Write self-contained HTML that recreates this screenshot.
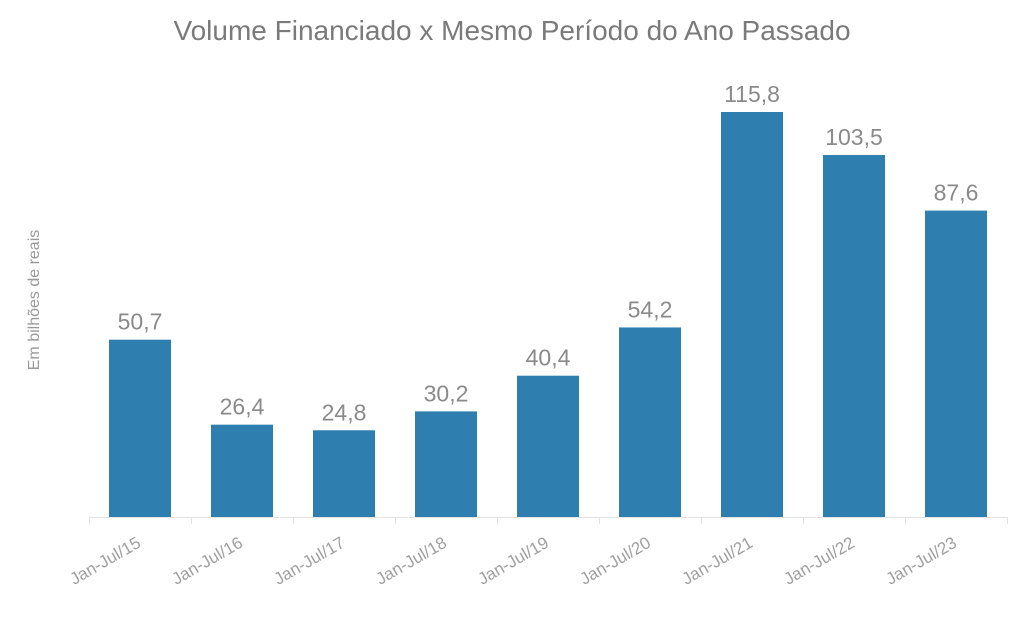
<!DOCTYPE html>
<html><head><meta charset="utf-8"><style>
body{margin:0;background:#fff;}
svg{display:block;font-family:"Liberation Sans",sans-serif;}
</style></head><body>
<svg id="c" width="1024" height="622">
<text x="512" y="40" text-anchor="middle" font-size="28" fill="#7a7a7a" font-weight="300">Volume Financiado x Mesmo Período do Ano Passado</text>
<text transform="translate(39,300) rotate(-90)" text-anchor="middle" font-size="16" fill="#999">Em bilhões de reais</text>
<line x1="89" y1="517.5" x2="1007" y2="517.5" stroke="#e3e3e3"/>
<g id="bars"></g>
</svg>
<script>
const categories=["Jan-Jul/15","Jan-Jul/16","Jan-Jul/17","Jan-Jul/18","Jan-Jul/19","Jan-Jul/20","Jan-Jul/21","Jan-Jul/22","Jan-Jul/23"];
const values=[50.7,26.4,24.8,30.2,40.4,54.2,115.8,103.5,87.6];
const valueLabels=["50,7","26,4","24,8","30,2","40,4","54,2","115,8","103,5","87,6"];
const NS="http://www.w3.org/2000/svg";
const g=document.getElementById("bars");
const x0=89,step=102,bw=62,base=517,scale=405/115.8;
function xc(i){return x0+step*i+step/2;}
function y(v){return base-v*scale;}
function mk(t,a){const e=document.createElementNS(NS,t);for(const k in a)e.setAttribute(k,a[k]);g.appendChild(e);return e;}
for(let i=0;i<=categories.length;i++){
 const t=mk("line",{x1:x0+step*i+0.5,x2:x0+step*i+0.5,y1:517,y2:524,stroke:"#e3e3e3"});
 
 
}
categories.forEach((c,i)=>{
 const r=mk("rect",{x:xc(i)-bw/2,y:y(values[i]),width:bw,height:base-y(values[i]),fill:"#2e7eb0"});
 
 
 const v=mk("text",{x:xc(i),y:y(values[i])-10,"text-anchor":"middle","font-size":"23",fill:"#8a8a8a"});
 v.textContent=valueLabels[i];
 
 
 const l=mk("text",{transform:`translate(${xc(i)+2},${546}) rotate(-30)`,"text-anchor":"end","font-size":"17",fill:"#a0a0a0"});
 l.textContent=c;
 
 
});
</script>
</body></html>
